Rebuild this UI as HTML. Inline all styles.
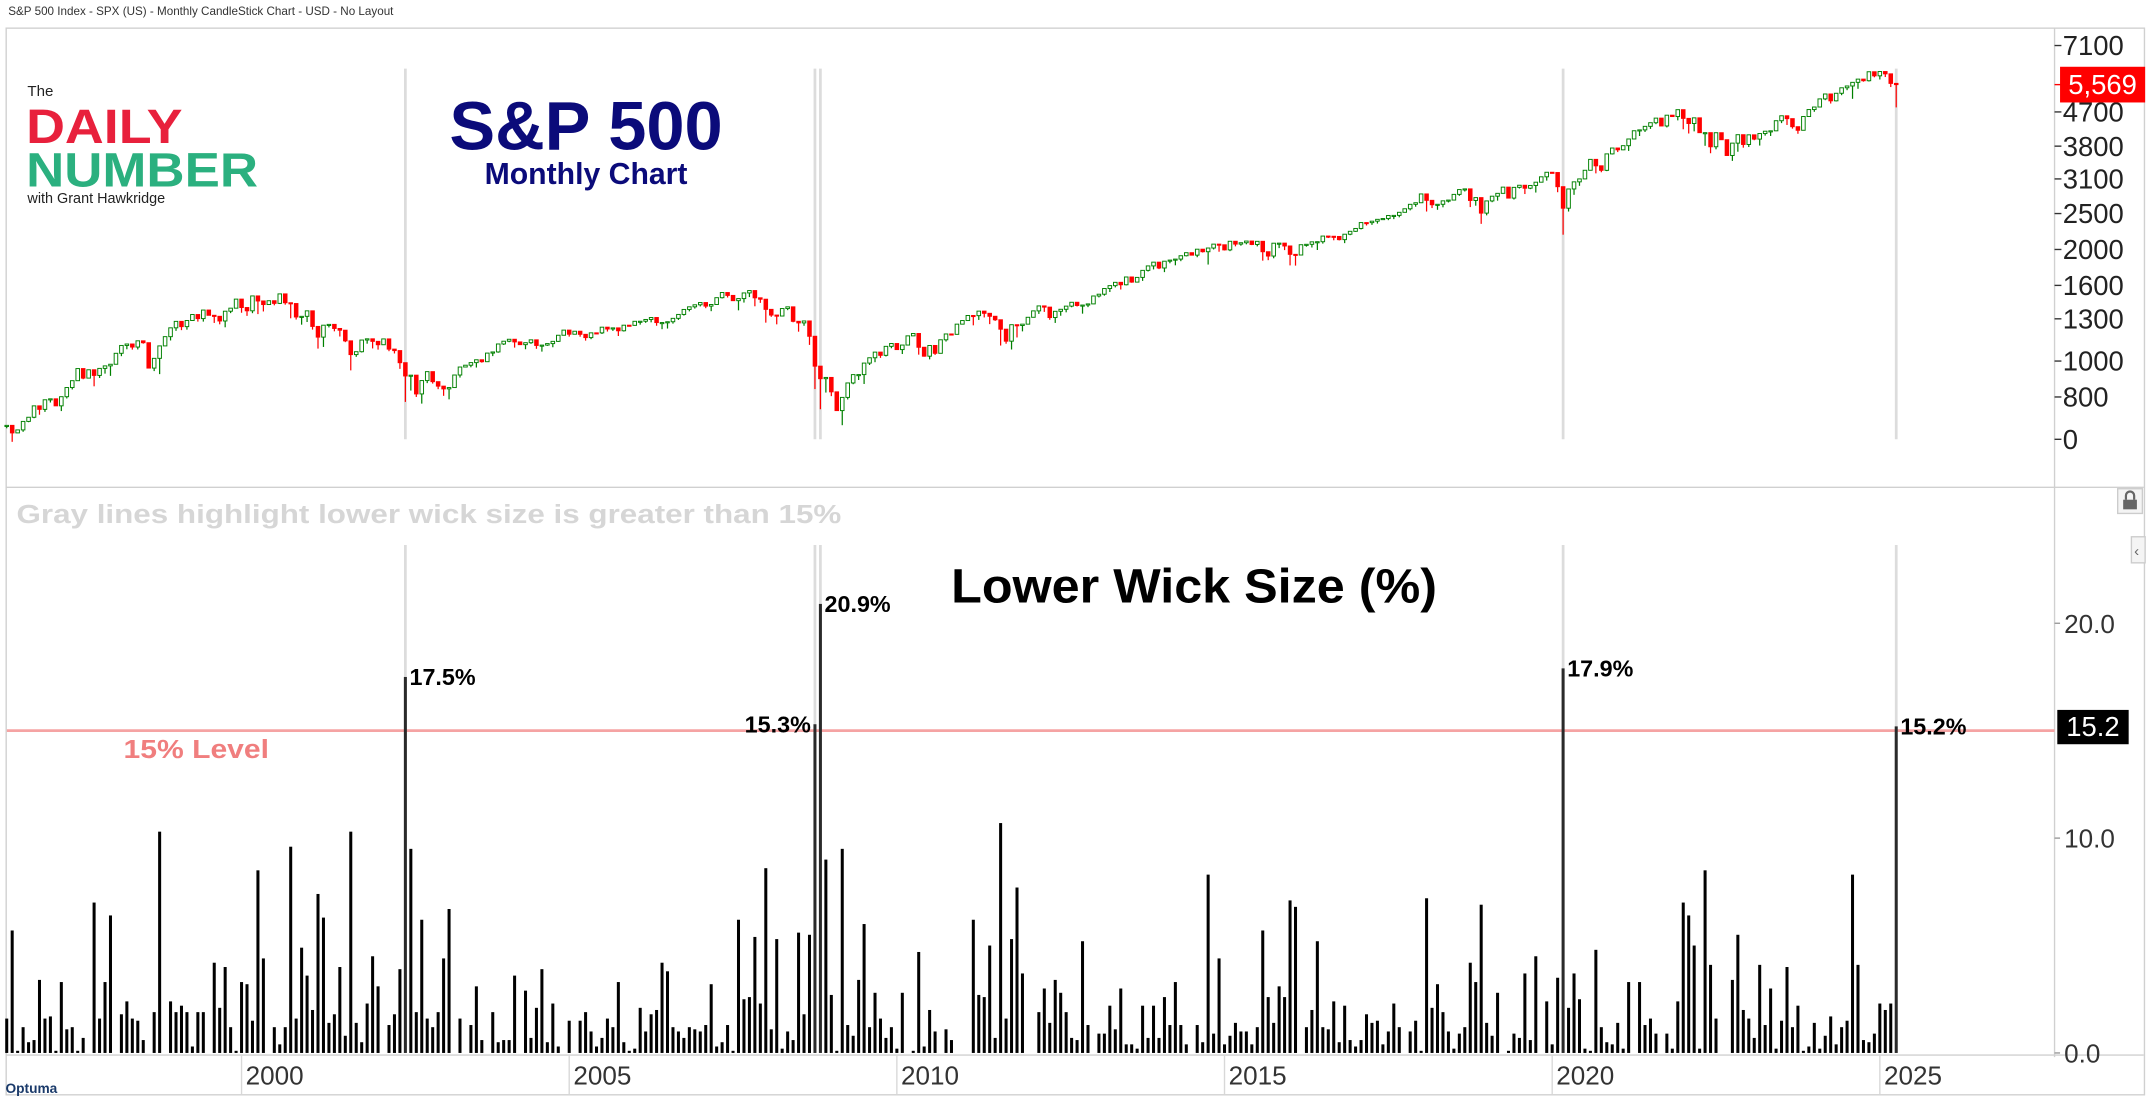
<!DOCTYPE html>
<html><head><meta charset="utf-8"><style>
html,body{margin:0;padding:0;background:#fff;}
svg{display:block;font-family:"Liberation Sans",sans-serif;}
</style></head><body>
<svg id="chart" width="2152" height="1101" viewBox="0 0 1568 802" preserveAspectRatio="none" xmlns="http://www.w3.org/2000/svg">
<text x="6" y="11" font-size="8.5" fill="#333">S&amp;P 500 Index - SPX (US) - Monthly CandleStick Chart - USD - No Layout</text>
<rect x="4.5" y="20.5" width="1558" height="777" fill="none" stroke="#d0d0d0" stroke-width="1"/>
<line x1="1497" y1="20" x2="1497" y2="770" stroke="#d0d0d0"/>
<line x1="4" y1="355" x2="1562" y2="355" stroke="#d0d0d0"/>
<line x1="4" y1="768.5" x2="1562" y2="768.5" stroke="#d0d0d0"/>
<g id="gray-lines"></g>
<g id="candles"></g>
<g id="wicks"></g>
<g id="price-axis"></g>
<g id="wick-axis"></g>
<g id="x-axis"></g>
<g>
<text x="20" y="70" font-size="11" fill="#222">The</text>
<text x="19" y="104" font-size="35" font-weight="bold" fill="#e8203c" textLength="114" lengthAdjust="spacingAndGlyphs">DAILY</text>
<text x="19" y="136" font-size="35" font-weight="bold" fill="#2bb07f" textLength="169" lengthAdjust="spacingAndGlyphs">NUMBER</text>
<text x="20" y="148" font-size="10.5" fill="#222">with Grant Hawkridge</text>
</g>
<text x="427" y="109" font-size="50" font-weight="bold" fill="#0b0b7a" text-anchor="middle">S&amp;P 500</text>
<text x="427" y="134" font-size="22" font-weight="bold" fill="#0b0b7a" text-anchor="middle">Monthly Chart</text>
<text x="12" y="381" font-size="19" font-weight="bold" fill="#d6d6d6" textLength="601" lengthAdjust="spacingAndGlyphs">Gray lines highlight lower wick size is greater than 15%</text>
<text x="693" y="439" font-size="35" font-weight="bold" fill="#000" textLength="354" lengthAdjust="spacingAndGlyphs">Lower Wick Size (%)</text>
<text x="90" y="552" font-size="19" font-weight="bold" fill="#f07e7e" textLength="106" lengthAdjust="spacingAndGlyphs">15% Level</text>
<g><rect x="1543" y="356" width="18" height="18" fill="#f4f4f4" stroke="#ccc"/><rect x="1547" y="364" width="10" height="7" fill="#666"/><path d="M1549 364v-3a3 3 0 0 1 6 0v3" fill="none" stroke="#666" stroke-width="1.6"/></g>
<g><rect x="1553" y="391" width="10" height="19" fill="#f4f4f4" stroke="#ccc"/><text x="1555" y="405" font-size="11" fill="#666">‹</text></g>
<text x="4" y="796" font-size="10" font-weight="bold" fill="#1a3a6a">Optuma</text>
</svg>
<script>
const NS="http://www.w3.org/2000/svg";
const firstOpen=669.12;
const closes=[670.63,639.95,651.99,687.33,705.27,757.02,740.74,
786.16,790.82,757.12,801.34,848.28,885.14,954.31,899.47,947.28,914.62,955.40,970.43,
980.28,1049.34,1101.75,1111.75,1090.82,1133.84,1120.67,957.28,1017.01,1098.67,1163.63,1229.23,
1279.64,1238.33,1286.37,1335.18,1301.84,1372.71,1328.72,1320.41,1282.71,1362.93,1388.91,1469.25,
1394.46,1366.42,1498.58,1452.43,1420.60,1454.60,1430.83,1517.68,1436.51,1429.40,1314.95,1320.28,
1366.01,1239.94,1160.33,1249.46,1255.82,1224.38,1211.23,1133.58,1040.94,1059.78,1139.45,1148.08,
1130.20,1106.73,1147.39,1076.92,1067.14,989.82,911.62,916.07,815.28,885.76,936.31,879.82,
855.70,841.15,848.18,916.92,963.59,974.50,990.31,1008.01,995.97,1050.71,1058.20,1111.92,
1131.13,1144.94,1126.21,1107.30,1120.68,1140.84,1101.72,1104.24,1114.58,1130.20,1173.82,1211.92,
1181.27,1203.60,1180.59,1156.85,1191.50,1191.33,1234.18,1220.33,1228.81,1207.01,1249.48,1248.29,
1280.08,1280.66,1294.83,1310.61,1270.09,1270.20,1276.66,1303.82,1335.85,1377.94,1400.63,1418.30,
1438.24,1406.82,1420.86,1482.37,1530.62,1503.35,1455.27,1473.99,1526.75,1549.38,1481.14,1468.36,
1378.55,1330.63,1322.70,1385.59,1400.38,1280.00,1267.38,1282.83,1166.36,968.75,896.24,903.25,
825.88,735.09,797.87,872.81,919.14,919.32,987.48,1020.62,1057.08,1036.19,1095.63,1115.10,
1073.87,1104.49,1169.43,1186.69,1089.41,1030.71,1101.60,1049.33,1141.20,1183.26,1180.55,1257.64,
1286.12,1327.22,1325.83,1363.61,1345.20,1320.64,1292.28,1218.89,1131.42,1253.30,1246.96,1257.60,
1312.41,1365.68,1408.47,1397.91,1310.33,1362.16,1379.32,1406.58,1440.67,1412.16,1416.18,1426.19,
1498.11,1514.68,1569.19,1597.57,1630.74,1606.28,1685.73,1632.97,1681.55,1756.54,1805.81,1848.36,
1782.59,1859.45,1872.34,1883.95,1923.57,1960.23,1930.67,2003.37,1972.29,2018.05,2067.56,2058.90,
1994.99,2104.50,2067.89,2085.51,2107.39,2063.11,2103.84,1972.18,1920.03,2079.36,2080.41,2043.94,
1940.24,1932.23,2059.74,2065.30,2096.95,2098.86,2173.60,2170.95,2168.27,2126.15,2198.81,2238.83,
2278.87,2363.64,2362.72,2384.20,2411.80,2423.41,2470.30,2471.65,2519.36,2575.26,2647.58,2673.61,
2823.81,2713.83,2640.87,2648.05,2705.27,2718.37,2816.29,2901.52,2913.98,2711.74,2760.17,2506.85,
2704.10,2784.49,2834.40,2945.83,2752.06,2941.76,2980.38,2926.46,2976.74,3037.56,3140.98,3230.78,
3225.52,2954.22,2584.59,2912.43,3044.31,3100.29,3271.12,3500.31,3363.00,3269.96,3621.63,3756.07,
3714.24,3811.15,3972.89,4181.17,4204.11,4297.50,4395.26,4522.68,4307.54,4605.38,4567.00,4766.18,
4515.55,4373.94,4530.41,4131.93,4132.15,3785.38,4130.29,3955.00,3585.62,3871.98,4080.11,3839.50,
4076.60,3970.15,4109.31,4169.48,4179.83,4450.38,4588.96,4507.66,4288.05,4193.80,4567.80,4769.83,
4845.65,5096.27,5254.35,5035.69,5277.51,5460.48,5522.30,5648.40,5762.48,5705.45,6032.38,5881.63,
6040.53,5954.50,5611.85,5569.06];
const lowerWick=[1.6,5.7,0.1,1.2,0.5,0.6,3.4,1.6,1.7,0.1,
3.3,1.1,1.2,0.1,0.7,0.0,7.0,1.6,3.3,6.4,
0.0,1.8,2.4,1.6,1.5,0.6,0.0,1.9,10.3,0.0,
2.4,1.9,2.2,1.9,0.3,1.9,1.9,0.0,4.2,2.1,
4.0,1.2,0.1,3.3,3.2,1.5,8.5,4.4,0.0,1.2,
0.4,1.2,9.6,1.6,4.9,3.6,2.0,7.4,6.3,1.4,
1.8,4.0,0.8,10.3,1.4,0.5,2.3,4.5,3.1,0.0,
1.3,1.8,3.9,17.5,9.5,1.9,6.2,1.6,1.2,1.9,
4.4,6.7,0.0,1.6,0.0,1.3,3.1,0.6,0.0,1.9,
0.5,0.6,0.6,3.6,0.0,2.9,0.7,2.1,3.9,0.5,
2.3,0.3,0.0,1.5,0.0,1.5,1.9,1.0,0.3,0.7,
1.6,1.2,3.3,0.5,0.1,0.2,2.1,1.0,1.8,2.0,
4.2,3.8,1.2,1.0,0.7,1.2,1.1,1.0,1.3,3.2,
0.3,0.5,1.3,0.1,6.2,2.5,2.6,5.4,2.3,8.6,
1.1,5.3,0.2,1.0,0.6,5.6,1.8,5.5,15.3,20.9,
9.0,2.7,0.1,9.5,1.3,0.8,3.4,6.0,1.2,2.8,
1.6,0.7,1.2,0.2,2.8,0.0,0.1,4.7,0.3,2.0,
1.0,0.0,1.1,0.6,0.0,0.0,0.0,6.2,2.7,2.6,
5.0,0.7,10.7,1.6,5.3,7.7,3.7,0.0,0.0,1.9,
3.0,1.4,3.4,2.8,1.9,0.7,0.6,5.2,1.3,0.0,
0.9,0.9,2.2,1.1,3.0,0.4,0.4,0.2,2.2,0.7,
2.2,0.7,2.6,1.3,3.3,1.3,0.4,0.0,1.3,0.5,
8.3,0.9,4.4,0.4,0.8,1.4,1.0,1.0,0.4,1.2,
5.7,2.6,1.4,3.1,2.6,7.1,6.8,0.0,1.2,2.0,
5.2,1.2,1.1,2.4,0.5,2.2,0.6,0.3,0.6,1.8,
1.4,1.5,0.4,1.0,2.3,1.2,0.0,1.0,1.5,0.1,
7.2,2.1,3.2,1.9,1.0,0.2,0.9,1.2,4.2,3.3,
6.9,1.4,0.8,2.8,0.0,0.1,0.9,0.7,3.7,0.6,
4.5,0.0,2.4,0.4,3.5,17.9,2.1,3.7,2.5,0.2,
0.1,4.8,1.2,0.5,0.4,1.4,0.2,3.3,0.0,3.3,
1.3,1.6,0.9,0.0,0.9,0.2,2.4,7.0,6.4,5.0,
0.2,8.5,4.1,1.6,0.0,0.0,3.4,5.5,2.0,1.6,
0.7,4.1,1.3,3.0,0.2,1.5,4.0,1.2,2.2,0.1,
0.3,1.4,0.2,0.8,1.7,0.4,1.2,1.5,8.3,4.1,
0.6,0.5,0.9,2.3,2.0,2.3,15.2];
const priceTicks=[7100,4700,3800,3100,2500,2000,1600,1300,1000,800];
const wickTicks=[0,10,20];
const yearTicks=[2000,2005,2010,2015,2020,2025];
const threshold=15;
const startYear=1996+5/12; // Jun 1996

const xOfIndex=i=>4.9+3.979*i;
const xOfYear=y=>xOfIndex((y-startYear)*12);
const yPrice=v=>263-270*Math.log10(v/1000);
const yWick=v=>767-15.65*v;

function mk(tag,attrs,parent,text){const e=document.createElementNS(NS,tag);for(const k in attrs)e.setAttribute(k,attrs[k]);if(text!==undefined)e.textContent=text;parent.appendChild(e);return e;}

const gl=document.getElementById('gray-lines'),cg=document.getElementById('candles'),wg=document.getElementById('wicks');
const pa=document.getElementById('price-axis'),wa=document.getElementById('wick-axis'),xa=document.getElementById('x-axis');

lowerWick.forEach((w,i)=>{if(w>threshold){const x=xOfIndex(i);
 const a=mk('line',{x1:x,y1:50,x2:x,y2:320,stroke:'#dcdcdc','stroke-width':2},gl);
 
 
 const b=mk('line',{x1:x,y1:397,x2:x,y2:767,stroke:'#dcdcdc','stroke-width':2},gl);
 
 
}});
const lv=mk('line',{x1:5,y1:yWick(threshold),x2:1497,y2:yWick(threshold),stroke:'#f5a3a3','stroke-width':2},gl);



closes.forEach((c,i)=>{const o=i===0?firstOpen:closes[i-1];const lo=Math.min(o,c)/(1+lowerWick[i]/100);
 const x=xOfIndex(i);const up=c>=o;const col=up?'#008000':'#ff0000';
 const g=mk('g',{},cg);
 
 
 mk('line',{x1:x,y1:yPrice(Math.max(o,c)),x2:x,y2:yPrice(lo),stroke:col,'stroke-width':0.9},g);
 const t=yPrice(Math.max(o,c)),b=yPrice(Math.min(o,c));
 mk('rect',{x:x-1.3,y:t,width:2.6,height:Math.max(b-t,0.8),fill:up?'#fff':col,stroke:col,'stroke-width':0.7},g);
});
lowerWick.forEach((w,i)=>{const x=xOfIndex(i);
 const r=mk('rect',{x:x-1.1,y:yWick(w),width:2.2,height:yWick(0)-yWick(w),fill:w>threshold?'#2a2a2a':'#000'},wg);
 
 
 if(w>threshold){
  const isLeft=(i+1<lowerWick.length&&lowerWick[i+1]>threshold);
  const lb=mk('text',{x:isLeft?x-3:x+3,y:yWick(w)+6,'font-size':17,'font-weight':'bold',fill:'#000','text-anchor':isLeft?'end':'start'},wg,w.toFixed(1)+'%');
  
  
 }
});
priceTicks.forEach(v=>{const y=yPrice(v);
 mk('line',{x1:1497,y1:y,x2:1502,y2:y,stroke:'#333'},pa);
 const t=mk('text',{x:1503,y:y+7,'font-size':20,fill:'#222'},pa,String(v));
 
 
});
mk('line',{x1:1497,y1:320,x2:1502,y2:320,stroke:'#333'},pa);
const z=mk('text',{x:1503,y:327,'font-size':20,fill:'#222'},pa,'0');


const last=closes[closes.length-1];
mk('line',{x1:1497,y1:yPrice(last),x2:1502,y2:yPrice(last),stroke:'#f00'},pa);
const lb=mk('rect',{x:1501,y:yPrice(last)-13,width:62,height:26,fill:'#ff0000'},pa);


mk('text',{x:1532,y:yPrice(last)+7,'font-size':20,fill:'#fff','text-anchor':'middle'},pa,last.toLocaleString('en-US',{maximumFractionDigits:0}));
wickTicks.forEach(v=>{const y=yWick(v);
 mk('line',{x1:1497,y1:y,x2:1501,y2:y,stroke:'#999'},wa);
 const t=mk('text',{x:1504,y:y+7,'font-size':19,fill:'#333'},wa,v.toFixed(1));
 
 
});
const lw=lowerWick[lowerWick.length-1];
const wb=mk('rect',{x:1499,y:yWick(lw)-12,width:52,height:25,fill:'#000'},wa);


mk('text',{x:1525,y:yWick(lw)+7,'font-size':20,fill:'#fff','text-anchor':'middle'},wa,lw.toFixed(1));
yearTicks.forEach(yr=>{const x=xOfYear(yr);
 mk('line',{x1:x,y1:768,x2:x,y2:797,stroke:'#d8d8d8'},xa);
 const t=mk('text',{x:x+3,y:790,'font-size':19,fill:'#333'},xa,String(yr));
 
 
});
</script>
</body></html>
